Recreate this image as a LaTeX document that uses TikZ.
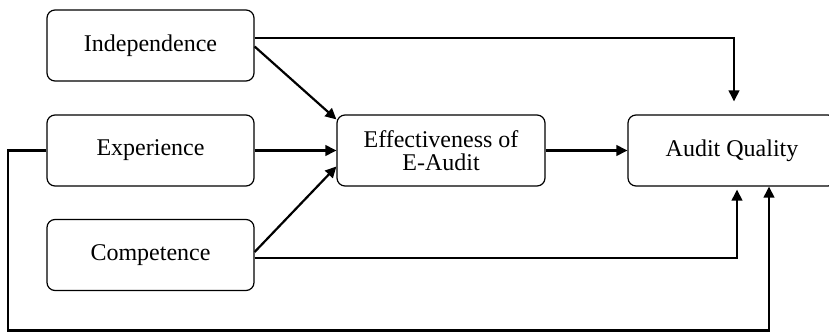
\documentclass[tikz,border=0pt]{standalone}
\usepackage{fontspec}
\setmainfont{Liberation Serif}
\usetikzlibrary{arrows.meta}
\begin{document}
\begin{tikzpicture}[x=0.5pt,y=-0.5pt,
  box/.style={draw, rounded corners=4pt, line width=0.6pt, inner sep=0pt,
    minimum width=103.5pt, minimum height=35.5pt, align=center,
    font=\fontsize{12}{11.7}\selectfont},
  arr/.style={line width=1.1pt, -{Triangle[length=5.5pt,width=5.3pt]}},
  ln/.style={line width=1.1pt}]
\useasboundingbox (0,0) rectangle (829,332);
\node[box] (ind) at (150.5,45.5) {Independence};
\node[box] (exp) at (150.5,150.5) {Experience};
\node[box] (comp) at (150.5,255) {Competence};
\node[box, minimum width=104pt] (eff) at (441,150.5) {Effectiveness of\\E-Audit};
\node[box, minimum width=104pt] (aq) at (732,150.5) {Audit Quality};
\coordinate (bl) at (8,330.5);
\draw[arr] ([yshift=3.75pt]ind.east) -| ([xshift=1pt,yshift=6.5pt]aq.north);
\draw[arr] ([yshift=-0.5pt]ind.east) -- ([yshift=-2.5pt]eff.north west);
\draw[arr] (exp.east) -- (eff.west);
\draw[arr] ([yshift=1.5pt]comp.east) -- ([yshift=-8pt]eff.west);
\draw[arr] ([yshift=-1.5pt]comp.east) -| ([xshift=2.5pt,yshift=-1.5pt]aq.south);
\draw[arr] (exp.west) -| (bl) -| ([xshift=18.5pt]aq.south);
\draw[arr] (eff.east) -- (aq.west);
\end{tikzpicture}
\end{document}
